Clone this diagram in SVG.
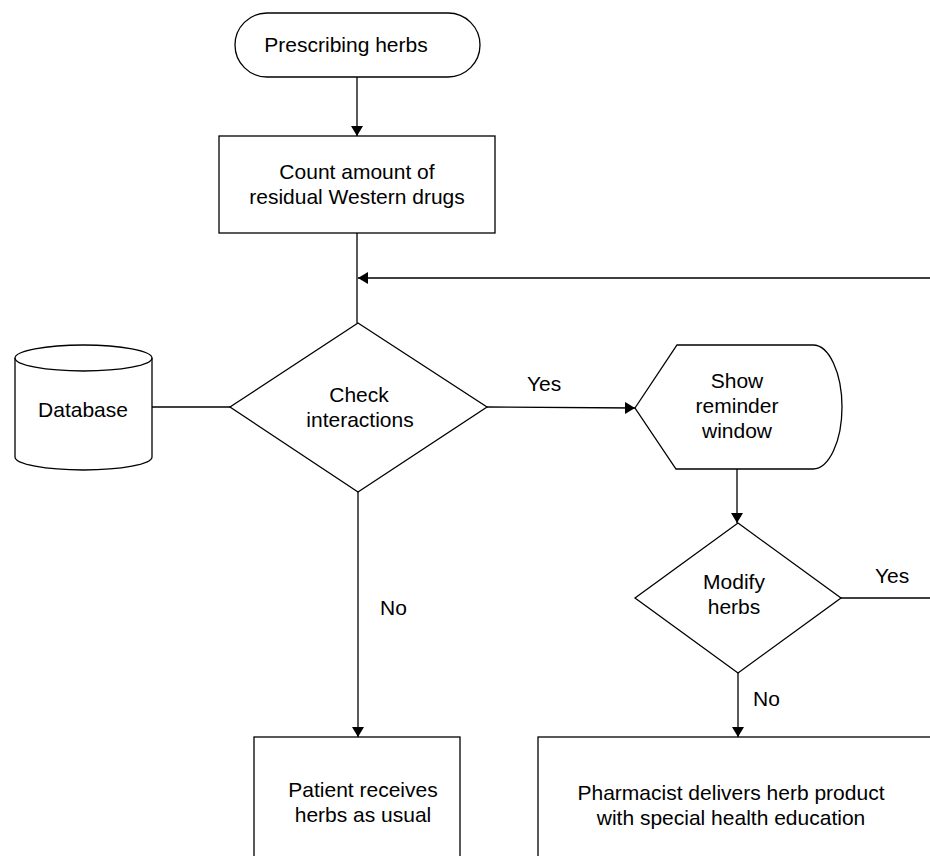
<svg xmlns="http://www.w3.org/2000/svg" width="930" height="856" viewBox="0 0 930 856">
<style>
.s{fill:#fff;stroke:#000;stroke-width:1.3}
.c{fill:none;stroke:#000;stroke-width:1.3}
text{font-family:"Liberation Sans",Arial,sans-serif;font-size:21px;fill:#000}
.m{text-anchor:middle}
</style>
<defs>
<marker id="ah" viewBox="0 0 10 12" refX="10" refY="6" markerWidth="10" markerHeight="12" markerUnits="userSpaceOnUse" orient="auto">
<path d="M0,0 L10,6 L0,12 Z" fill="#000"/>
</marker>
</defs>
<rect width="930" height="856" fill="#fff"/>
<g id="connectors">
<line class="c" x1="357" y1="77" x2="357" y2="136" marker-end="url(#ah)"/>
<line class="c" x1="357" y1="233" x2="357" y2="323"/>
<line class="c" x1="930" y1="278" x2="358" y2="278" marker-end="url(#ah)"/>
<line class="c" x1="152" y1="407" x2="230" y2="407"/>
<line class="c" x1="487" y1="407" x2="635" y2="408" marker-end="url(#ah)"/>
<line class="c" x1="358" y1="492" x2="358" y2="737" marker-end="url(#ah)"/>
<line class="c" x1="737" y1="469" x2="737" y2="523" marker-end="url(#ah)"/>
<line class="c" x1="841" y1="598" x2="930" y2="598"/>
<line class="c" x1="738" y1="673" x2="738" y2="737" marker-end="url(#ah)"/>
<text x="527" y="391">Yes</text>
<text x="875" y="583">Yes</text>
<text x="380" y="615">No</text>
<text x="753" y="706">No</text>
</g>
<g id="start">
<rect class="s" x="235" y="13" width="245" height="64" rx="32" ry="32"/>
<text x="346" y="52" class="m">Prescribing herbs</text>
</g>
<g id="count">
<rect class="s" x="219" y="136" width="276" height="97"/>
<text x="357" y="179" class="m">Count amount of</text>
<text x="357" y="204" class="m">residual Western drugs</text>
</g>
<g id="database">
<path class="s" d="M15,358 A68.5,13 0 0 1 152,358 L152,457 A68.5,13 0 0 1 15,457 Z"/>
<path class="c" d="M15,358 A68.5,13 0 0 0 152,358"/>
<text x="83" y="417" class="m">Database</text>
</g>
<g id="check">
<polygon class="s" points="358,323 487,407 358,492 230,407"/>
<text x="359" y="402" class="m">Check</text>
<text x="360" y="427" class="m">interactions</text>
</g>
<g id="reminder">
<path class="s" d="M635,408 L677,345 L813,345 A29,62 0 0 1 813,469 L676,469 Z"/>
<text x="737" y="388" class="m">Show</text>
<text x="737" y="413" class="m">reminder</text>
<text x="737" y="438" class="m">window</text>
</g>
<g id="modify">
<polygon class="s" points="738,523 841,598 738,673 635,598"/>
<text x="734" y="589" class="m">Modify</text>
<text x="734" y="614" class="m">herbs</text>
</g>
<g id="patient">
<rect class="s" x="254" y="737" width="206" height="140"/>
<text x="363" y="797" class="m">Patient receives</text>
<text x="363" y="822" class="m">herbs as usual</text>
</g>
<g id="pharmacist">
<rect class="s" x="538" y="737" width="420" height="140"/>
<text x="731" y="800" class="m">Pharmacist delivers herb product</text>
<text x="731" y="825" class="m">with special health education</text>
</g>
</svg>
